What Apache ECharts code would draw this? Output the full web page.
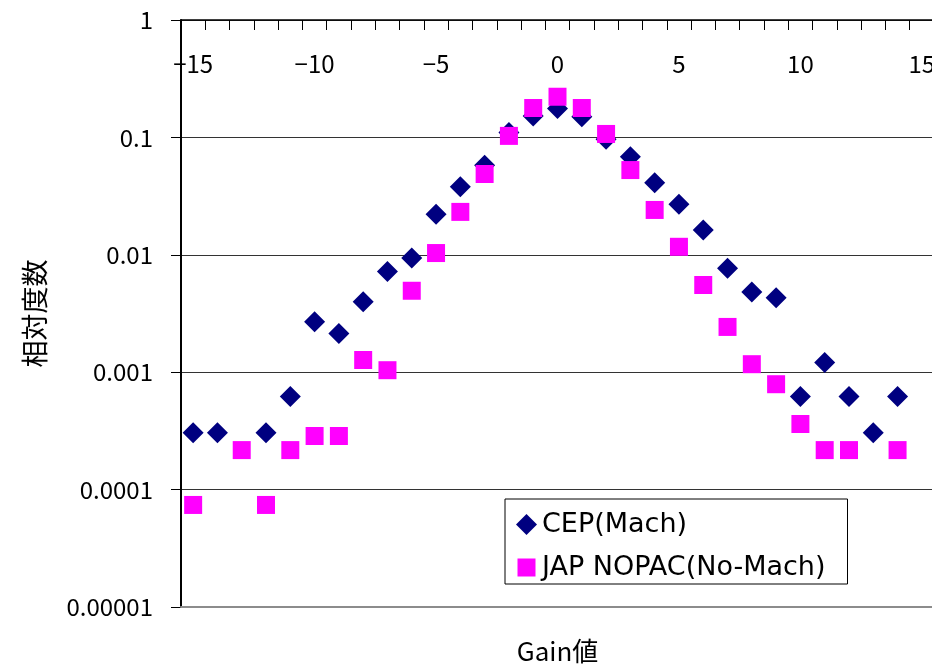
<!DOCTYPE html>
<html>
<head>
<meta charset="utf-8">
<script src="https://cdn.jsdelivr.net/npm/echarts@6/dist/echarts.min.js"></script>
<style>
    html, body { margin: 0; padding: 0; background: #fff; }
    #main { width: 932px; height: 665px; }
</style>
</head>
<body>
<div id="main"></div>
<script>
// Gain値 -15 .. 15
var gainValues = ["-15", "-14", "-13", "-12", "-11", "-10", "-9", "-8", "-7", "-6", "-5", "-4", "-3", "-2", "-1",
    "0", "1", "2", "3", "4", "5", "6", "7", "8", "9", "10", "11", "12", "13", "14", "15"];
// CEP(Mach)
var cepValues = [0.000305, 0.000305, null, 0.000305, 0.00062, 0.00269, 0.00214, 0.00399, 0.0072, 0.0094,
    0.0221, 0.038, 0.058, 0.110, 0.152, 0.176, 0.150, 0.0963, 0.0685, 0.0411,
    0.0269, 0.0163, 0.0077, 0.00482, 0.00431, 0.00062, 0.00121, 0.00062, 0.000305, 0.00062, null];
// JAP NOPAC(No-Mach)
var japValues = [0.000074, null, 0.000217, 0.000074, 0.000217, 0.000286, 0.000286, 0.00127, 0.00104, 0.00494,
    0.01035, 0.0232, 0.0488, 0.103, 0.178, 0.222, 0.178, 0.107, 0.0527, 0.0241,
    0.0117, 0.00553, 0.00243, 0.00117, 0.00079, 0.000362, 0.000217, 0.000217, null, 0.000217, null];
var yTickLabels = ["1", "0.1", "0.01", "0.001", "0.0001", "0.00001"];

var fontName = "Noto Sans CJK JP";
var chart = echarts.init(document.getElementById("main"));

chart.setOption({
    animation: false,
    textStyle: { fontFamily: fontName, color: "#000" },
    grid: { left: 181, top: 20, width: 753, height: 587, outerBoundsMode: "none" },
    legend: {
        orient: "vertical",
        left: 505,
        top: 499,
        padding: [12, 22, 3, 11],
        itemGap: 16,
        itemWidth: 21,
        itemHeight: 21,
        borderColor: "#000",
        borderWidth: 1,
        backgroundColor: "#fff",
        textStyle: { fontFamily: "DejaVu Sans", fontSize: 27, lineHeight: 24, color: "#000" },
        data: [
            { name: "CEP(Mach)", icon: "diamond" },
            { name: "JAP NOPAC(No-Mach)", icon: "path://M0,0M21,21M1.5,1.5h18v18h-18z" }
        ]
    },
    xAxis: [{
        type: "category",
        data: gainValues,
        position: "top",
        boundaryGap: true,
        axisLine: { show: true, lineStyle: { color: "#000", width: 1.5 } },
        axisTick: { show: true, inside: true, interval: 0, length: 10, lineStyle: { color: "#000" } },
        axisLabel: {
            inside: true,
            interval: 4,
            margin: 32,
            fontSize: 24,
            color: "#000",
            fontFamily: fontName,
            formatter: function (v) { return v.replace("-", "\u2212"); }
        },
        splitLine: { show: false }
    }, {
        type: "category",
        data: gainValues,
        position: "bottom",
        z: 5,
        axisLine: { show: true, lineStyle: { color: "#8c8c8c", width: 2 } },
        axisTick: { show: false },
        axisLabel: { show: false },
        name: "Gain値",
        nameLocation: "middle",
        nameGap: 31,
        nameTextStyle: { fontFamily: fontName, fontSize: 26, color: "#000" }
    }],
    yAxis: {
        type: "log",
        logBase: 10,
        min: 0.00001,
        max: 1,
        name: "相対度数",
        nameLocation: "middle",
        nameGap: 133,
        nameTextStyle: { fontFamily: fontName, fontSize: 27, color: "#000" },
        axisLine: { show: true, lineStyle: { color: "#000", width: 2 } },
        axisTick: { show: true, length: 10, lineStyle: { color: "#000" } },
        minorTick: { show: false },
        axisLabel: {
            margin: 28,
            fontSize: 24,
            color: "#000",
            fontFamily: fontName,
            formatter: function (v) {
                var k = Math.round(-Math.log(v) / Math.LN10);
                return yTickLabels[k];
            }
        },
        splitLine: { show: true, lineStyle: { color: "#333", width: 1 } }
    },
    series: [{
        name: "CEP(Mach)",
        type: "scatter",
        symbol: "diamond",
        symbolSize: 21,
        itemStyle: { color: "#000080", opacity: 1 },
        data: cepValues
    }, {
        name: "JAP NOPAC(No-Mach)",
        type: "scatter",
        symbol: "rect",
        symbolSize: 18,
        itemStyle: { color: "#ff00ff", opacity: 1 },
        data: japValues
    }]
});
</script>
</body>
</html>
